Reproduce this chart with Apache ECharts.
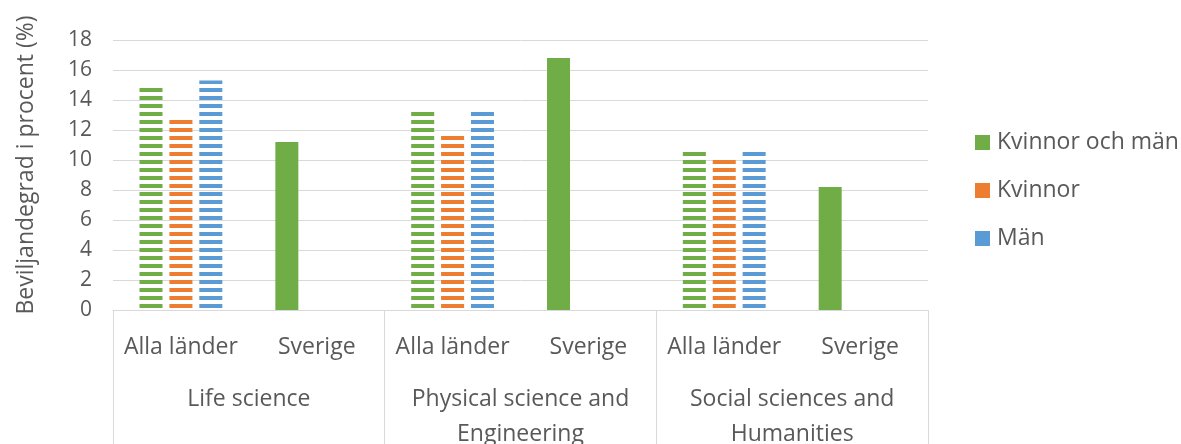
<!DOCTYPE html>
<html>
<head>
<meta charset="utf-8">
<script src="https://cdn.jsdelivr.net/npm/echarts@6/dist/echarts.min.js"></script>
<style>
  html, body { margin: 0; padding: 0; background: #ffffff; }
  #chart { width: 1181px; height: 444px; }
</style>
</head>
<body>
<div id="chart"></div>
<script>
// Beviljandegrad per ämnesområde, alla länder jämfört med Sverige
const categories = ['Alla länder', 'Sverige', 'Alla länder', 'Sverige', 'Alla länder', 'Sverige'];
const groups = ['Life science', 'Physical science and\nEngineering', 'Social sciences and\nHumanities'];
const seriesNames = ['Kvinnor och män', 'Kvinnor', 'Män'];
const kvinnorOchMan = [14.9, 11.2, 13.3, 16.8, 10.6, 8.2];
const kvinnor = [12.8, null, 11.7, null, 10.1, null];
const man = [15.3, null, 13.3, null, 10.6, null];
const yTicks = [0, 2, 4, 6, 8, 10, 12, 14, 16, 18];
const yTitle = 'Beviljandegrad i procent (%)';

const colors = ['#70AD47', '#ED7D31', '#5B9BD5'];
const textColor = '#595959';
const lineColor = '#d9d9d9';
const font = "'Open Sans', 'Noto Sans', sans-serif";

// horizontal stripe fill used for the "Alla länder" bars
function stripes(color) {
  const c = document.createElement('canvas');
  c.width = 8; c.height = 8;
  const ctx = c.getContext('2d');
  ctx.fillStyle = color;
  ctx.fillRect(0, 0, 8, 4);
  return { image: c, repeat: 'repeat' };
}

function buildData(values, color) {
  return values.map((v, i) => {
    if (v === null) return '-';
    const allaLander = categories[i] === 'Alla länder';
    return { value: v, itemStyle: { color: allaLander ? stripes(color) : color } };
  });
}

const allValues = [kvinnorOchMan, kvinnor, man];

const chart = echarts.init(document.getElementById('chart'), null, { renderer: 'canvas' });

chart.setOption({
  animation: false,
  backgroundColor: '#ffffff',
  textStyle: { fontFamily: font },
  grid: { left: 113, right: 253, top: 40, bottom: 134, containLabel: false, outerBoundsMode: 'none' },
  legend: {
    data: seriesNames,
    orient: 'vertical',
    left: 970,
    top: 126,
    itemWidth: 15,
    itemHeight: 15,
    itemGap: 25,
    icon: 'rect',
    selectedMode: false,
    textStyle: { color: textColor, fontSize: 23, fontFamily: font, padding: [0, 0, 0, 2] }
  },
  xAxis: [
    {
      type: 'category',
      data: categories,
      position: 'bottom',
      axisLine: { show: true, lineStyle: { color: lineColor, width: 1 } },
      axisTick: { show: false },
      axisLabel: { interval: 0, color: textColor, fontSize: 23, fontFamily: font, margin: 26 },
      splitLine: { show: false }
    },
    {
      type: 'category',
      data: groups,
      position: 'bottom',
      gridIndex: 0,
      axisLine: { show: false },
      axisTick: { show: true, interval: 0, length: 134, lineStyle: { color: lineColor, width: 1 } },
      axisLabel: { interval: 0, color: textColor, fontSize: 23, fontFamily: font, margin: 72, lineHeight: 35 },
      splitLine: { show: false }
    }
  ],
  yAxis: {
    type: 'value',
    min: yTicks[0],
    max: yTicks[yTicks.length - 1],
    interval: yTicks[1] - yTicks[0],
    axisLine: { show: false },
    axisTick: { show: false },
    axisLabel: { color: textColor, fontSize: 21, fontFamily: font, margin: 21 },
    splitLine: { show: true, lineStyle: { color: lineColor, width: 1 } }
  },
  graphic: [
    {
      type: 'text',
      x: 26,
      y: 165,
      rotation: Math.PI / 2,
      style: {
        text: yTitle,
        fill: textColor,
        font: "23px 'Open Sans', 'Noto Sans', sans-serif",
        align: 'center',
        verticalAlign: 'middle'
      }
    }
  ],
  series: seriesNames.map((name, k) => ({
    name: name,
    type: 'bar',
    xAxisIndex: 0,
    yAxisIndex: 0,
    barWidth: 23,
    barGap: '30%',
    itemStyle: { color: colors[k] },
    emphasis: { disabled: true },
    data: buildData(allValues[k], colors[k])
  }))
});
</script>
</body>
</html>
